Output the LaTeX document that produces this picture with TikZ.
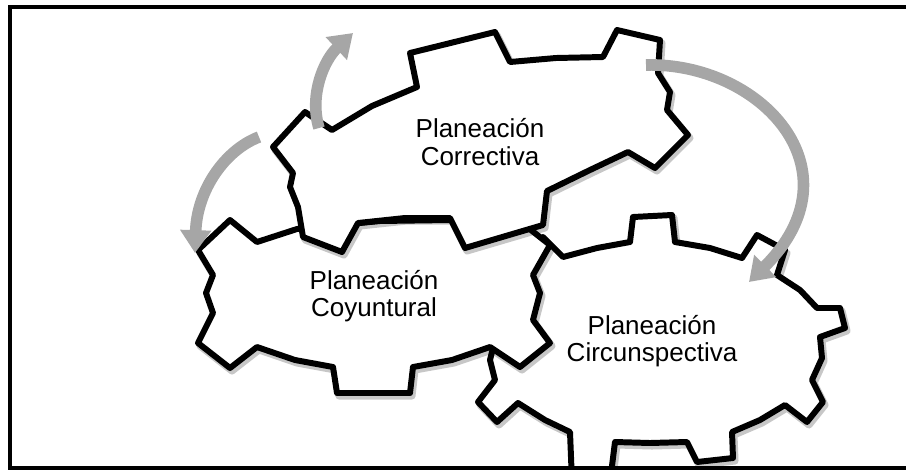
\documentclass[tikz,border=0pt]{standalone}
\usepackage{fontspec}
\setmainfont{Liberation Sans}
\usepackage{tikz}
\usetikzlibrary{arrows.meta}
\definecolor{cyclegray}{RGB}{166,166,166}

\newcommand{\CircPath}{(543,237) -- (563,257) -- (597,248) -- (630,242) -- (633,217) -- (672,215)
  -- (675,242) -- (710,248) -- (742,258) -- (757,235) -- (785,250) -- (777,275)
  -- (800,290) -- (817,308) -- (840,308) -- (845,328) -- (820,337) -- (822,358)
  -- (812,380) -- (823,402) -- (807,422) -- (785,405) -- (760,420) -- (732,432)
  -- (733,458) -- (697,462) -- (687,442) -- (650,443) -- (615,442) -- (610,482)
  -- (572,482) -- (570,432) -- (545,420) -- (518,403) -- (497,422) -- (478,402)
  -- (495,380) -- (490,360) -- (500,320) -- (518,280) -- (530,252) -- cycle}
\newcommand{\CoyuPath}{(198,250) -- (230,220) -- (257,242) -- (297,229) -- (380,221) -- (450,220)
  -- (522,223) -- (550,245) -- (533,275) -- (540,293) -- (533,320) -- (550,343)
  -- (520,367) -- (490,347) -- (452,360) -- (413,367) -- (410,393) -- (337,393)
  -- (333,367) -- (295,360) -- (257,347) -- (230,368) -- (198,343) -- (213,313)
  -- (206,293) -- (213,275) -- cycle}
\newcommand{\CorrPath}{(273,147) -- (305,112) -- (332,130) -- (372,106) -- (417,87) -- (410,53)
  -- (495,32) -- (510,62) -- (556,58) -- (603,57) -- (617,30) -- (660,40)
  -- (658,73) -- (670,92) -- (667,110) -- (688,135) -- (655,168) -- (628,152)
  -- (590,170) -- (547,191) -- (543,225) -- (465,248) -- (450,218) -- (405,218)
  -- (358,223) -- (342,252) -- (303,237) -- (298,207) -- (290,187) -- (293,173) -- cycle}

\begin{document}
\begin{tikzpicture}[
x=0.02cm,y=-0.02cm,
MyGears/.style={draw=black,fill=white,line width=3.4pt,line join=round},
MyShadows/.style={draw=black,opacity=0.22,line width=4pt,line join=round,shift={(2,3)}},
MyArrows/.style={draw=cyclegray,line width=6.6pt,-{Triangle[length=13pt,width=17pt]}},
MyLabels/.style={align=center,font=\fontsize{14.8}{15.5}\selectfont},
Frame/.style={draw=black,line width=2.4pt}
]
\useasboundingbox (0,0) rectangle (906,471);

\begin{scope}
\clip (10,7) rectangle (906,468);

% Circunspectiva
\draw[MyShadows] \CircPath;
\draw[MyGears] \CircPath;
\node[MyLabels] (circ) at (652,341) {Planeación\\Circunspectiva};

% Coyuntural
\draw[MyShadows] \CoyuPath;
\draw[MyGears] \CoyuPath;
\node[MyLabels] (coyu) at (374,296) {Planeación\\Coyuntural};

% Correctiva
\draw[MyShadows] \CorrPath;
\draw[MyGears] \CorrPath;
\node[MyLabels] (corr) at (480,142) {Planeación\\Correctiva};
\end{scope}

\coordinate (ArrA1) at (319,128);
\coordinate (ArrA2) at (353,33);
\coordinate (ArrB1) at (259,137);
\coordinate (ArrB2) at (195,253);
\coordinate (ArrC1) at (646,65);
\coordinate (ArrC2) at (749,282);

\draw[MyArrows] (ArrA1) .. controls (309,95) and (324,60) .. (ArrA2);
\draw[MyArrows] (ArrB1) .. controls (225,150) and (197,190) .. (ArrB2);
\draw[MyArrows] (ArrC1) .. controls (760,62) and (862,170) .. (ArrC2);

\draw[Frame] (910,7) -- (10,7) -- (10,468) -- (910,468);

\end{tikzpicture}
\end{document}
